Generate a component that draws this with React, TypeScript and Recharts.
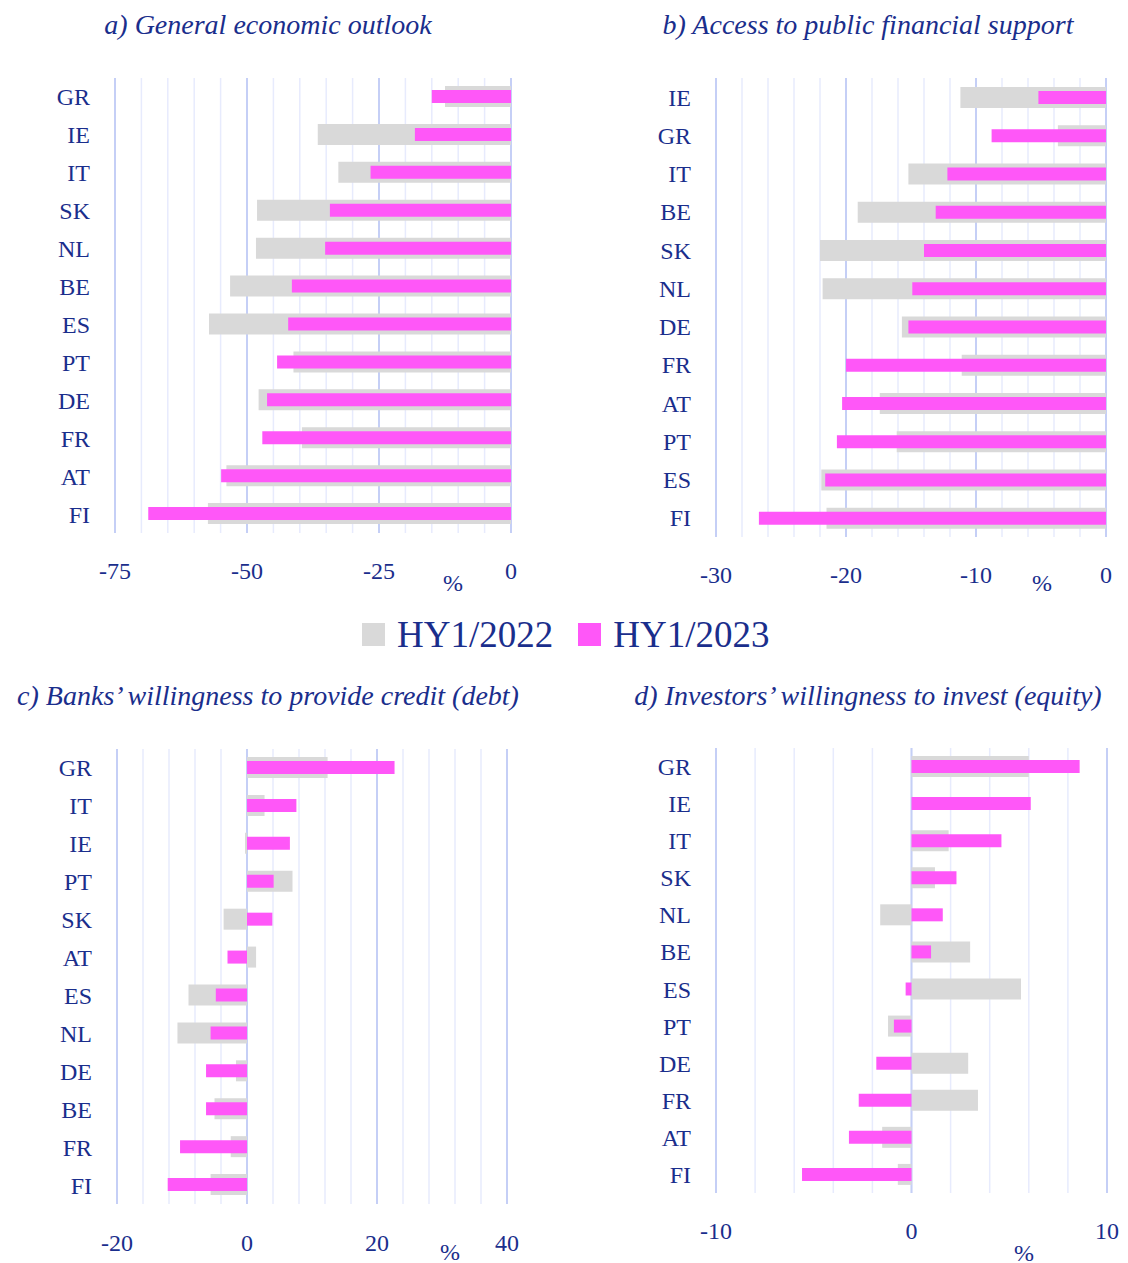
import { BarChart, Bar, XAxis, YAxis, CartesianGrid } from "recharts";

// a) General economic outlook
const countriesA = ["GR", "IE", "IT", "SK", "NL", "BE", "ES", "PT", "DE", "FR", "AT", "FI"];
const hy2022A = [-12.5, -36.6, -32.7, -48.1, -48.3, -53.2, -57.2, -41.2, -47.8, -39.6, -53.9, -57.4];
const hy2023A = [-15.0, -18.2, -26.6, -34.3, -35.2, -41.5, -42.2, -44.3, -46.2, -47.1, -54.9, -68.7];
const ticksA = [-75, -70, -65, -60, -55, -50, -45, -40, -35, -30, -25, -20, -15, -10, -5, 0];
const majorA = [-75, -50, -25, 0];

// b) Access to public financial support
const countriesB = ["IE", "GR", "IT", "BE", "SK", "NL", "DE", "FR", "AT", "PT", "ES", "FI"];
const hy2022B = [-11.2, -3.7, -15.2, -19.1, -22.0, -21.8, -15.7, -11.1, -17.4, -16.1, -21.9, -21.5];
const hy2023B = [-5.2, -8.8, -12.2, -13.1, -14.0, -14.9, -15.2, -20.0, -20.3, -20.7, -21.6, -26.7];
const ticksB = [-30, -28, -26, -24, -22, -20, -18, -16, -14, -12, -10, -8, -6, -4, -2, 0];
const majorB = [-30, -20, -10, 0];

// c) Banks' willingness to provide credit (debt)
const countriesC = ["GR", "IT", "IE", "PT", "SK", "AT", "ES", "NL", "DE", "BE", "FR", "FI"];
const hy2022C = [12.4, 2.7, -0.3, 7.0, -3.6, 1.4, -9.0, -10.7, -1.7, -5.0, -2.5, -5.6];
const hy2023C = [22.7, 7.6, 6.6, 4.1, 3.9, -3.0, -4.8, -5.6, -6.3, -6.3, -10.3, -12.2];
const ticksC = [-20, -16, -12, -8, -4, 0, 4, 8, 12, 16, 20, 24, 28, 32, 36, 40];
const majorC = [-20, 0, 20, 40];

// d) Investors' willingness to invest (equity)
const countriesD = ["GR", "IE", "IT", "SK", "NL", "BE", "ES", "PT", "DE", "FR", "AT", "FI"];
const hy2022D = [6.0, 0, 1.9, 1.2, -1.6, 3.0, 5.6, -1.2, 2.9, 3.4, -1.5, -0.7];
const hy2023D = [8.6, 6.1, 4.6, 2.3, 1.6, 1.0, -0.3, -0.9, -1.8, -2.7, -3.2, -5.6];
const ticksD = [-10, -8, -6, -4, -2, 0, 2, 4, 6, 8, 10];
const majorD = [-10, 0, 10];

const navy = "#1a2e8c";
const grey = "#d9d9d9";
const pink = "#ff57f8";
const serif = "'Liberation Serif', 'DejaVu Serif', serif";

function rows(names: string[], a: number[], b: number[]) {
  return names.map((name, i) => ({ name, hy2022: a[i], hy2023: b[i] }));
}

type PanelProps = {
  data: { name: string; hy2022: number; hy2023: number }[];
  ticks: number[];
  major: number[];
  left: number;
  top: number;
  width: number;
  height: number;
  axisWidth: number;
  margin: { top: number; right: number; bottom: number; left: number };
  xHeight: number;
  xTickMargin: number;
};

function Panel(p: PanelProps) {
  const domain = [p.ticks[0], p.ticks[p.ticks.length - 1]];
  return (
    <div style={{ position: "absolute", left: p.left, top: p.top }}>
      <BarChart layout="vertical" width={p.width} height={p.height} data={p.data} margin={p.margin}>
        {/* light grid every minor step, darker grid on labelled values */}
        <CartesianGrid horizontal={false} stroke="#e7ebfd" strokeWidth={1.5} yAxisId="back" />
        <CartesianGrid horizontal={false} stroke="#c5cff6" strokeWidth={2} xAxisId="major" yAxisId="back" />
        <XAxis
          type="number"
          domain={domain}
          ticks={p.ticks}
          interval={0}
          allowDataOverflow
          axisLine={false}
          tickLine={false}
          height={p.xHeight}
          tickMargin={p.xTickMargin}
          tickFormatter={(v: number) => (p.major.includes(v) ? String(v) : "")}
          tick={{ fill: navy, fontSize: 24, fontFamily: serif }}
        />
        <XAxis xAxisId="major" type="number" domain={domain} ticks={p.major} interval={0} allowDataOverflow hide />
        <YAxis
          yAxisId="back"
          type="category"
          dataKey="name"
          interval={0}
          width={p.axisWidth}
          axisLine={false}
          tickLine={false}
          tickMargin={19}
          tick={{ fill: navy, fontSize: 24, fontFamily: serif }}
        />
        <YAxis yAxisId="front" type="category" dataKey="name" hide />
        <Bar dataKey="hy2022" yAxisId="back" fill={grey} barSize={21} isAnimationActive={false} />
        <Bar dataKey="hy2023" yAxisId="front" fill={pink} barSize={13} isAnimationActive={false} />
      </BarChart>
    </div>
  );
}

const titleStyle: React.CSSProperties = {
  position: "absolute",
  transform: "translate(-50%, -50%)",
  whiteSpace: "nowrap",
  fontStyle: "italic",
  fontSize: 28,
  color: navy,
  fontFamily: serif,
};

const pctStyle: React.CSSProperties = {
  position: "absolute",
  transform: "translate(-50%, -50%)",
  fontSize: 24,
  color: navy,
  fontFamily: serif,
};

export default function App() {
  return (
    <div style={{ position: "absolute", left: 0, top: 0, width: 1128, height: 1263, background: "#fff", fontFamily: serif }}>
      <div style={{ ...titleStyle, left: 268, top: 25 }}>a) General economic outlook</div>
      <div style={{ ...titleStyle, left: 868, top: 25 }}>b) Access to public financial support</div>
      <div style={{ ...titleStyle, left: 268, top: 696 }}>c) Banks’ willingness to provide credit (debt)</div>
      <div style={{ ...titleStyle, left: 868, top: 696 }}>d) Investors’ willingness to invest (equity)</div>

      <Panel
        data={rows(countriesA, hy2022A, hy2023A)}
        ticks={ticksA}
        major={majorA}
        left={0}
        top={60}
        width={564}
        height={540}
        axisWidth={115}
        margin={{ top: 18, right: 53, bottom: 7, left: 0 }}
        xHeight={60}
        xTickMargin={23}
      />
      <Panel
        data={rows(countriesB, hy2022B, hy2023B)}
        ticks={ticksB}
        major={majorB}
        left={564}
        top={60}
        width={564}
        height={540}
        axisWidth={152}
        margin={{ top: 18, right: 22, bottom: 3, left: 0 }}
        xHeight={60}
        xTickMargin={23}
      />
      <Panel
        data={rows(countriesC, hy2022C, hy2023C)}
        ticks={ticksC}
        major={majorC}
        left={0}
        top={720}
        width={564}
        height={543}
        axisWidth={117}
        margin={{ top: 29, right: 57, bottom: 9, left: 0 }}
        xHeight={50}
        xTickMargin={24}
      />
      <Panel
        data={rows(countriesD, hy2022D, hy2023D)}
        ticks={ticksD}
        major={majorD}
        left={564}
        top={720}
        width={564}
        height={543}
        axisWidth={152}
        margin={{ top: 28, right: 21, bottom: 20, left: 0 }}
        xHeight={50}
        xTickMargin={23}
      />

      <div style={{ ...pctStyle, left: 453, top: 583 }}>%</div>
      <div style={{ ...pctStyle, left: 1042, top: 583 }}>%</div>
      <div style={{ ...pctStyle, left: 450, top: 1252 }}>%</div>
      <div style={{ ...pctStyle, left: 1024, top: 1253 }}>%</div>

      <div
        style={{
          position: "absolute",
          left: 362,
          top: 612,
          height: 44,
          display: "flex",
          alignItems: "center",
          fontSize: 37,
          color: navy,
          fontFamily: serif,
          whiteSpace: "nowrap",
        }}
      >
        <span style={{ display: "inline-block", width: 23, height: 23, background: grey, marginRight: 12 }} />
        <span>HY1/2022</span>
        <span style={{ display: "inline-block", width: 23, height: 23, background: pink, marginLeft: 25, marginRight: 12 }} />
        <span>HY1/2023</span>
      </div>
    </div>
  );
}
